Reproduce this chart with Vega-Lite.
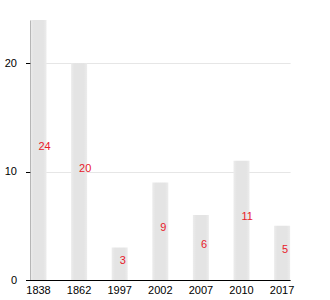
{
  "$schema": "https://vega.github.io/schema/vega-lite/v6.json",
  "width": 262,
  "height": 260,
  "autosize": {"type": "none"},
  "padding": {"left": 30.5, "top": 20, "right": 37.5, "bottom": 20},
  "background": "white",
  "config": {
    "font": "Liberation Sans",
    "view": {"stroke": null}
  },
  "data": {
    "values": [
      {"year": "1838", "value": 24},
      {"year": "1862", "value": 20},
      {"year": "1997", "value": 3},
      {"year": "2002", "value": 9},
      {"year": "2007", "value": 6},
      {"year": "2010", "value": 11},
      {"year": "2017", "value": 5}
    ]
  },
  "encoding": {
    "x": {
      "field": "year",
      "type": "ordinal",
      "sort": null,
      "scale": {"paddingInner": 0.606, "paddingOuter": 0, "range": [0, 259.6]},
      "axis": {
        "title": null,
        "labelAngle": 0,
        "ticks": false,
        "labelPadding": 4,
        "labelFontSize": 11,
        "labelColor": "#000",
        "domainColor": "#000",
        "domainWidth": 1
      }
    }
  },
  "layer": [
    {
      "mark": {
        "type": "bar",
        "color": {
          "gradient": "linear",
          "x1": 0, "x2": 1, "y1": 0, "y2": 0,
          "stops": [
            {"offset": 0, "color": "#ececec"},
            {"offset": 0.2, "color": "#e4e4e4"},
            {"offset": 0.8, "color": "#e4e4e4"},
            {"offset": 1, "color": "#ececec"}
          ]
        }
      },
      "encoding": {
        "y": {
          "field": "value",
          "type": "quantitative",
          "scale": {"domain": [0, 24], "nice": false},
          "axis": {
            "title": null,
            "values": [0, 10, 20],
            "tickSize": 5,
            "tickColor": "#000",
            "labelPadding": 9,
            "labelFontSize": 11,
            "labelColor": "#000",
            "domainColor": "#000",
            "gridColor": "#e6e6e6",
            "grid": true
          }
        }
      }
    },
    {
      "transform": [{"calculate": "datum.value / 2", "as": "labelPos"}],
      "mark": {"type": "text", "align": "left", "baseline": "alphabetic", "color": "#e8202a", "fontSize": 11},
      "encoding": {
        "y": {"field": "labelPos", "type": "quantitative"},
        "text": {"field": "value", "type": "quantitative"}
      }
    }
  ]
}
